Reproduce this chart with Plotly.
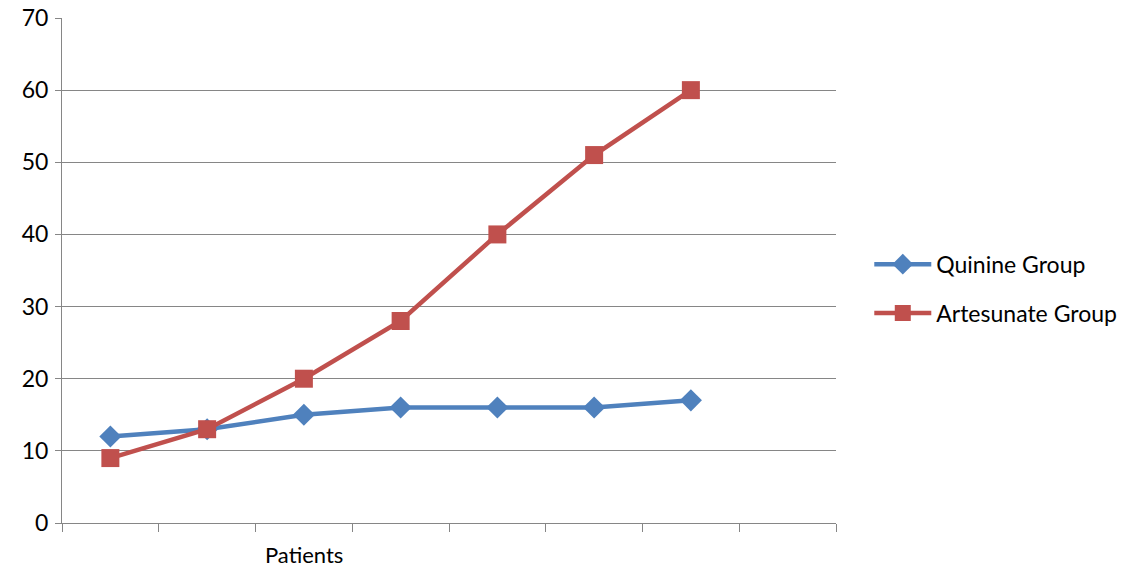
import plotly.graph_objects as go

categories = [1, 2, 3, 4, 5, 6, 7]
quinine = [12, 13, 15, 16, 16, 16, 17]
artesunate = [9, 13, 20, 28, 40, 51, 60]
x_title = "Patients"

FONT = "Lato, Open Sans, sans-serif"
GRID = "#868686"
FS = 23

fig = go.Figure()
fig.add_trace(go.Scatter(
    x=categories, y=quinine, name="Quinine Group", mode="lines+markers",
    line=dict(color="#4F81BD", width=4.5),
    marker=dict(symbol="diamond", size=17, color="#4F81BD"),
    legendgroup="q",
))
fig.add_trace(go.Scatter(
    x=categories, y=artesunate, name="Artesunate Group", mode="lines+markers",
    line=dict(color="#C0504D", width=4.5),
    marker=dict(symbol="square", size=18, color="#C0504D"),
    legendgroup="a",
))

fig.update_layout(
    width=1136, height=570,
    margin=dict(l=62, r=300, t=18, b=47, autoexpand=False),
    paper_bgcolor="white", plot_bgcolor="white",
    font=dict(family=FONT, size=FS, color="black"),
    legend=dict(
        x=1.043, xanchor="left", xref="paper", y=0.464, yanchor="middle",
        font=dict(size=FS, family=FONT), traceorder="grouped",
        tracegroupgap=16, itemwidth=57, bgcolor="rgba(0,0,0,0)",
    ),
    xaxis=dict(
        range=[0.5, 8.5], tickvals=[i + 0.5 for i in range(0, 9)],
        showticklabels=False, ticks="outside", ticklen=8, tickcolor=GRID,
        showgrid=False, zeroline=False, showline=True, linecolor=GRID, linewidth=1,
        automargin=False,
    ),
    yaxis=dict(
        range=[0, 70], dtick=10, ticks="outside", ticklen=6, tickcolor=GRID,
        showgrid=True, gridcolor=GRID, gridwidth=1, zeroline=False,
        showline=True, linecolor=GRID, linewidth=1, automargin=False,
        tickfont=dict(size=FS, family=FONT), ticklabelstandoff=2,
    ),
    annotations=[dict(
        x=3, y=0, xref="x", yref="paper", yanchor="top", yshift=-16,
        text=x_title, showarrow=False, font=dict(size=22, family=FONT),
    )],
)

fig.write_html("out.html")
